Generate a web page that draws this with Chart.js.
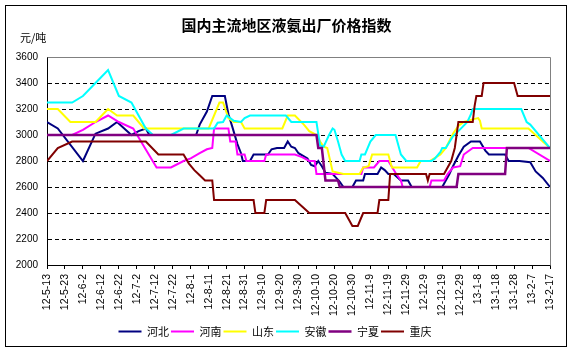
<!DOCTYPE html>
<html>
<head>
<meta charset="utf-8">
<script src="https://cdn.jsdelivr.net/npm/chart.js@4.4.0/dist/chart.umd.min.js"></script>
<style>
  html, body { margin: 0; padding: 0; background: #fff; }
  canvas { display: block; }
</style>
</head>
<body>
<canvas id="priceChart" width="573" height="353"></canvas>
<script>
// x = days since 12-5-13, y = 元/吨
const dateLabels = ['12-5-13', '12-5-23', '12-6-2', '12-6-12', '12-6-22', '12-7-2', '12-7-12', '12-7-22',
  '12-8-1', '12-8-11', '12-8-21', '12-8-31', '12-9-10', '12-9-20', '12-9-30', '12-10-10', '12-10-20',
  '12-10-30', '12-11-9', '12-11-19', '12-11-29', '12-12-9', '12-12-19', '12-12-29', '13-1-8', '13-1-18',
  '13-1-28', '13-2-7', '13-2-17'];

const hebei = [[0, 3100], [6, 3050], [20, 2800], [27, 3010], [34, 3050], [39, 3100], [47, 3000], [51, 3030],
  [55, 3050], [57, 3000], [83, 3000], [85, 3080], [89, 3180], [92, 3300], [99, 3300], [101, 3160], [103, 3070],
  [106, 2930], [108, 2860], [109, 2800], [113, 2800], [115, 2850], [123, 2850], [125, 2890], [128, 2900],
  [132, 2900], [134, 2950], [136, 2910], [138, 2900], [140, 2860], [145, 2820], [147, 2770], [149, 2760],
  [151, 2800], [153, 2760], [155, 2710], [159, 2700], [161, 2670], [163, 2640], [165, 2600], [170, 2600],
  [172, 2650], [176, 2650], [177, 2700], [184, 2700], [186, 2750], [188, 2730], [190, 2700], [193, 2700],
  [197, 2650], [201, 2650], [203, 2600], [220, 2600], [224, 2700], [226, 2760], [229, 2840], [232, 2910],
  [236, 2950], [241, 2950], [244, 2880], [246, 2850], [255, 2850], [257, 2800], [263, 2800], [269, 2790],
  [272, 2720], [276, 2670], [280, 2600]];

const henan = [[0, 3000], [14, 3000], [20, 3040], [27, 3100], [34, 3150], [40, 3100], [48, 3050], [61, 2750],
  [69, 2750], [76, 2800], [80, 2820], [85, 2860], [89, 2890], [92, 2900], [93, 3050], [101, 3050], [102, 2950],
  [105, 2950], [106, 2850], [110, 2850], [111, 2800], [121, 2800], [122, 2850], [138, 2850], [142, 2830],
  [146, 2800], [149, 2800], [150, 2700], [175, 2700], [176, 2750], [182, 2750], [185, 2800], [190, 2800],
  [194, 2710], [197, 2650], [198, 2600], [213, 2600], [214, 2650], [221, 2650], [223, 2700], [226, 2750],
  [230, 2760], [232, 2850], [237, 2900], [268, 2900], [280, 2800]];

const shandong = [[0, 3200], [6, 3200], [13, 3100], [27, 3100], [34, 3200], [39, 3150], [48, 3150], [54, 3050],
  [90, 3050], [96, 3250], [98, 3250], [101, 3130], [104, 3100], [108, 3100], [110, 3050], [131, 3050],
  [134, 3150], [138, 3150], [143, 3080], [146, 3030], [150, 3000], [152, 2950], [154, 2910], [156, 2900],
  [158, 2780], [159, 2720], [165, 2700], [174, 2700], [176, 2750], [179, 2760], [181, 2850], [190, 2850],
  [192, 2750], [206, 2750], [208, 2800], [213, 2800], [219, 2850], [222, 2900], [226, 3010], [229, 3070],
  [232, 3100], [237, 3120], [240, 3130], [241, 3110], [242, 3050], [268, 3050], [272, 3000], [280, 2900]];

const anhui = [[0, 3250], [14, 3250], [20, 3300], [27, 3400], [34, 3500], [40, 3300], [47, 3250], [55, 3050],
  [59, 3000], [69, 3000], [76, 3050], [93, 3050], [95, 3095], [98, 3100], [100, 3150], [104, 3110], [108, 3100],
  [110, 3130], [113, 3150], [133, 3150], [136, 3100], [150, 3100], [152, 2920], [154, 2910], [157, 3000],
  [159, 3050], [160, 3040], [162, 2950], [164, 2850], [166, 2800], [174, 2800], [175, 2850], [177, 2850],
  [180, 2950], [183, 3000], [194, 3000], [197, 2850], [200, 2800], [214, 2800], [216, 2820], [219, 2870],
  [220, 2900], [222, 2900], [226, 2990], [229, 3030], [234, 3100], [236, 3160], [237, 3200], [264, 3200],
  [267, 3100], [269, 3080], [280, 2900]];

const ningxia = [[0, 3000], [150, 3000], [151, 2900], [153, 2900], [155, 2650], [162, 2650], [163, 2600],
  [228, 2600], [229, 2700], [255, 2700], [256, 2900], [280, 2900]];

const chongqing = [[0, 2800], [6, 2900], [14, 2950], [55, 2950], [62, 2850], [76, 2850], [79, 2780], [82, 2730],
  [85, 2690], [88, 2650], [92, 2650], [93, 2500], [115, 2500], [116, 2400], [121, 2400], [122, 2500],
  [138, 2500], [146, 2400], [166, 2400], [170, 2300], [173, 2300], [176, 2400], [184, 2400], [185, 2500],
  [190, 2500], [191, 2700], [211, 2700], [212, 2650], [213, 2700], [221, 2700], [223, 2750], [225, 2800],
  [227, 2900], [229, 3100], [237, 3100], [238, 3220], [239, 3300], [242, 3300], [243, 3400], [260, 3400],
  [262, 3300], [280, 3300]];

const seriesNames = ['河北', '河南', '山东', '安徽', '宁夏', '重庆'];
const seriesData = [hebei, henan, shandong, anhui, ningxia, chongqing];
const seriesColors = ['#000080', '#FF00FF', '#FFFF00', '#00FFFF', '#800080', '#800000'];
const seriesWidths = [2, 2, 2, 2, 2.5, 2];

const chartFrame = {
  id: 'chartFrame',
  beforeDraw(chart) {
    const ctx = chart.ctx;
    ctx.save();
    ctx.fillStyle = '#fff';
    ctx.fillRect(0, 0, chart.width, chart.height);
    ctx.strokeStyle = '#000';
    ctx.lineWidth = 1;
    ctx.strokeRect(5.5, 5.5, 561, 341);
    ctx.fillStyle = '#000';
    ctx.textBaseline = 'middle';
    ctx.textAlign = 'center';
    ctx.font = 'bold 15px "Noto Sans CJK SC"';
    ctx.fillText('国内主流地区液氨出厂价格指数', 286.5, 25);
    ctx.textAlign = 'left';
    ctx.font = '11px "Noto Sans CJK SC"';
    ctx.fillText('元/吨', 20, 38);
    ctx.restore();
  },
  beforeDatasetsDraw(chart) {
    const { left, top, right, bottom } = chart.chartArea;
    const ctx = chart.ctx;
    ctx.save();
    ctx.strokeStyle = '#808080';
    ctx.lineWidth = 1;
    ctx.beginPath();
    ctx.moveTo(Math.round(left) + 0.5, Math.round(top) + 0.5);
    ctx.lineTo(Math.round(right) + 0.5, Math.round(top) + 0.5);
    ctx.lineTo(Math.round(right) + 0.5, Math.round(bottom) + 0.5);
    ctx.stroke();
    ctx.restore();
  }
};

const context = document.getElementById('priceChart').getContext('2d');

new Chart(context, {
  type: 'line',
  data: {
    datasets: seriesNames.map((name, i) => {
      return {
        label: name,
        data: seriesData[i],
        borderColor: seriesColors[i],
        backgroundColor: seriesColors[i],
        borderWidth: seriesWidths[i],
        pointRadius: 0,
        tension: 0,
        fill: false,
        order: seriesNames.length - i
      };
    })
  },
  options: {
    responsive: false,
    animation: false,
    devicePixelRatio: 1,
    layout: {
      padding: { left: 0, right: 23, top: 57, bottom: 6 }
    },
    scales: {
      x: {
        type: 'linear',
        min: 0,
        max: 280,
        afterFit: (scale) => { scale.height = 59; },
        ticks: {
          stepSize: 10,
          autoSkip: false,
          minRotation: 90,
          maxRotation: 90,
          padding: 5,
          color: '#000',
          font: { family: '"Liberation Sans"', size: 10.5 },
          callback: (value) => dateLabels[Math.round(value / 10)]
        },
        grid: {
          drawOnChartArea: false,
          drawTicks: true,
          tickLength: 4,
          color: '#000'
        },
        border: { color: '#000', width: 1 }
      },
      y: {
        min: 2000,
        max: 3600,
        afterFit: (scale) => { scale.width = 47; },
        ticks: {
          stepSize: 200,
          padding: 9,
          color: '#000',
          font: { family: '"Liberation Sans"', size: 10 },
          callback: (value) => String(value)
        },
        grid: {
          drawTicks: false,
          color: (ctx) => (ctx.tick && (ctx.tick.value === 3600 || ctx.tick.value === 2000)) ? 'rgba(0,0,0,0)' : '#000',
          lineWidth: 1
        },
        border: { display: true, color: '#000', width: 1, dash: [4, 3] }
      }
    },
    plugins: {
      legend: {
        display: true,
        position: 'bottom',
        labels: {
          usePointStyle: true,
          pointStyle: 'line',
          pointStyleWidth: 23,
          boxHeight: 11,
          padding: 2,
          color: '#000',
          font: { family: '"Noto Sans CJK SC"', size: 11 },
          sort: (a, b) => a.datasetIndex - b.datasetIndex
        }
      },
      title: { display: false },
      tooltip: { enabled: false }
    }
  },
  plugins: [chartFrame]
});
</script>
</body>
</html>
